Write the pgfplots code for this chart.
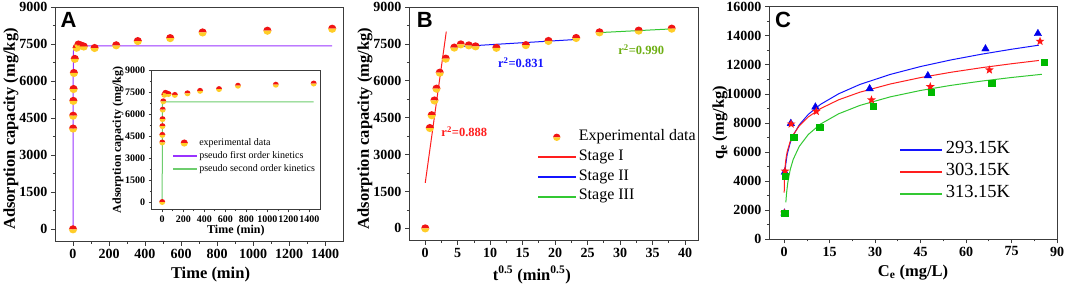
\documentclass[border=0pt]{standalone}
\usepackage{fontspec}
\setmainfont{Liberation Serif}
\newfontfamily\arialfont{Liberation Sans}
\usepackage{pgfplots}
\pgfplotsset{compat=1.18}
\definecolor{pviolet}{RGB}{153,51,255}
\definecolor{pgreen}{RGB}{110,205,110}
\definecolor{sgreen}{RGB}{50,200,50}
\definecolor{lred}{RGB}{255,30,30}
\definecolor{lblue}{RGB}{20,20,255}
\definecolor{olivegreen}{RGB}{110,175,20}
\definecolor{ballred}{RGB}{240,20,20}
\definecolor{ballyel}{RGB}{255,205,40}
\definecolor{frame}{RGB}{60,60,60}
\definecolor{mblue}{RGB}{0,0,235}
\definecolor{mred}{RGB}{255,20,20}
\definecolor{mgreen}{RGB}{0,185,0}

\pgfdeclareplotmark{halfball}{%
 \pgfpathmoveto{\pgfqpoint{\pgfplotmarksize}{0pt}}%
 \pgfpatharc{0}{180}{\pgfplotmarksize}%
 \pgfpathclose
 \pgfsetfillcolor{ballred}\pgfusepath{fill}%
 \pgfpathmoveto{\pgfqpoint{-\pgfplotmarksize}{0pt}}%
 \pgfpatharc{180}{360}{\pgfplotmarksize}%
 \pgfpathclose
 \pgfsetfillcolor{ballyel}\pgfusepath{fill}%
}
\pgfdeclareplotmark{fstar}{%
 \pgfpathmoveto{\pgfpointpolar{90}{\pgfplotmarksize}}%
 \pgfpathlineto{\pgfpointpolar{126}{0.42\pgfplotmarksize}}%
 \pgfpathlineto{\pgfpointpolar{162}{\pgfplotmarksize}}%
 \pgfpathlineto{\pgfpointpolar{198}{0.42\pgfplotmarksize}}%
 \pgfpathlineto{\pgfpointpolar{234}{\pgfplotmarksize}}%
 \pgfpathlineto{\pgfpointpolar{270}{0.42\pgfplotmarksize}}%
 \pgfpathlineto{\pgfpointpolar{306}{\pgfplotmarksize}}%
 \pgfpathlineto{\pgfpointpolar{342}{0.42\pgfplotmarksize}}%
 \pgfpathlineto{\pgfpointpolar{18}{\pgfplotmarksize}}%
 \pgfpathlineto{\pgfpointpolar{54}{0.42\pgfplotmarksize}}%
 \pgfpathclose
 \pgfusepathqfill
}

\pgfplotsset{
 myaxis/.style={
  scale only axis,
  axis line style={line width=0.9pt, frame},
  tick style={line width=0.8pt, frame},
  tick align=outside, tick pos=left,
  major tick length=4pt, minor tick length=2.2pt,
  minor x tick num=1, minor y tick num=1,
  scaled ticks=false,
  ticklabel style={font=\bfseries\fontsize{14}{14}\selectfont},
  /pgf/number format/assume math mode=true,
  /pgf/number format/1000 sep={},
  label style={font=\bfseries\fontsize{16.5}{16.5}\selectfont},
  axis background/.style={fill=white},
 },
 legline/.style n args={3}{legend image code/.code={\fill[#1] (0pt,-#3) rectangle (#2,#3);}},
}

\pgfplotstableread{
t q
0 0
0.5 4080
1 4600
2 5200
3 5680
5 6330
10 6900
20 7350
30 7480
45 7440
60 7400
120 7340
240 7450
360 7620
540 7740
720 7970
1080 8040
1440 8120
}\kinA

\pgfplotstableread{
s q
0 0
0.707 4080
1 4600
1.414 5200
1.732 5680
2.236 6330
3.162 6900
4.472 7350
5.477 7480
6.708 7440
7.746 7400
10.954 7340
15.492 7450
18.974 7620
23.238 7740
26.833 7970
32.863 8040
37.947 8120
}\kinB

\begin{document}
\begin{tikzpicture}
\useasboundingbox (0,0) rectangle (1065pt,286pt);

% ---------------- Panel A ----------------
\begin{axis}[myaxis, at={(55pt,44.3pt)}, anchor=south west,
 width=288pt, height=234.7pt,
 xmin=-100, xmax=1500, ymin=-500, ymax=9000,
 xtick={0,200,...,1400}, ytick={0,1500,...,9000},
 xlabel={Time (min)}, ylabel={Adsorption capacity (mg/kg)},
 xlabel style={at={(axis description cs:0.54,-0.142)}, anchor=center},
 ylabel style={at={(axis description cs:-0.153,0.48)}, anchor=center},
]
\addplot[pviolet, line width=1pt] coordinates {(0,0)(0.5,3700)(1,5700)(2,7000)(3,7300)(5,7420)(10,7430)(1440,7430)};
\addplot[only marks, mark=halfball, mark size=4.1pt] table[x=t,y=q] {\kinA};
\node[font=\arialfont\bfseries\fontsize{22}{22}\selectfont] at (axis description cs:0.047,0.945) {A};
\end{axis}

% inset
\begin{axis}[myaxis, at={(151.7pt,76.7pt)}, anchor=south west,
 width=168.3pt, height=138.6pt,
 xmin=-100, xmax=1500, ymin=-500, ymax=9000,
 xtick={0,200,...,1400}, ytick={0,1500,...,9000},
 major tick length=3pt, minor tick length=1.8pt,
 ticklabel style={font=\bfseries\fontsize{10}{10}\selectfont},
 label style={font=\bfseries\fontsize{12}{12}\selectfont},
 xlabel={Time (min)}, ylabel={Adsorption capacity (mg/kg)},
 xlabel style={at={(axis description cs:0.5,-0.152)}, anchor=center},
 ylabel style={at={(axis description cs:-0.2,0.5)}, anchor=center},
 legend style={at={(axis description cs:0.105,0.53)}, anchor=north west, draw=none, fill=none,
   font=\fontsize{10}{10}\selectfont, nodes={inner sep=0pt, text height=7.5pt, text depth=2.5pt},
   row sep=2.8pt, /tikz/every odd column/.append style={column sep=3.3pt}},
 legend cell align=left,
]
\addplot[pgreen, line width=1pt, forget plot] coordinates {(0,0)(0.5,3500)(1,5400)(2,6500)(3,6800)(5,6870)(10,6870)(1440,6870)};
\addplot[only marks, mark=halfball, mark size=3pt, forget plot] table[x=t,y=q] {\kinA};
\addlegendimage{legend image code/.code={\draw plot[only marks, mark=halfball, mark size=3.6pt] coordinates {(11.5pt,0pt)}; \path (0pt,0pt) (23pt,0pt);}}
\addlegendentry{experimental data}
\addlegendimage{legline={pviolet}{23pt}{0.55pt}}
\addlegendentry{pseudo first order kinetics}
\addlegendimage{legline={pgreen}{23pt}{0.55pt}}
\addlegendentry{pseudo second order kinetics}
\end{axis}

% ---------------- Panel B ----------------
\begin{axis}[myaxis, at={(409pt,45.3pt)}, anchor=south west,
 width=289pt, height=233.7pt,
 xmin=-2.5, xmax=42, ymin=-500, ymax=9000,
 xtick={0,5,...,40}, ytick={0,1500,...,9000},
 xlabel={t\textsuperscript{0.5} (min\textsuperscript{0.5})}, ylabel={Adsorption capacity (mg/kg)},
 xlabel style={at={(axis description cs:0.425,-0.147)}, anchor=center},
 ylabel style={at={(axis description cs:-0.152,0.48)}, anchor=center},
 legend style={at={(axis description cs:0.436,0.484)}, anchor=north west, draw=none, fill=none,
   font=\fontsize{16}{16}\selectfont, nodes={inner sep=0pt, text height=11pt, text depth=4pt},
   row sep=4.7pt, /tikz/every odd column/.append style={column sep=3.5pt}},
 legend cell align=left,
]
\addplot[lred, line width=1pt, forget plot] coordinates {(0,1850)(3.24,8000)};
\addplot[lblue, line width=1pt, forget plot] coordinates {(4.47,7380)(23.24,7680)};
\addplot[sgreen, line width=1pt, forget plot] coordinates {(26.83,7960)(37.95,8110)};
\addplot[only marks, mark=halfball, mark size=4.1pt, forget plot] table[x=s,y=q] {\kinB};
\addlegendimage{legend image code/.code={\draw plot[only marks, mark=halfball, mark size=3.7pt] coordinates {(18.35pt,0pt)}; \path (0pt,0pt) (36.7pt,0pt);}}
\addlegendentry{Experimental data}
\addlegendimage{legline={lred}{36.7pt}{0.55pt}}
\addlegendentry{Stage I}
\addlegendimage{legline={lblue}{36.7pt}{0.55pt}}
\addlegendentry{Stage II}
\addlegendimage{legline={sgreen}{36.7pt}{0.55pt}}
\addlegendentry{Stage III}
\node[font=\bfseries\fontsize{12.5}{12.5}\selectfont, text=lred, anchor=west, inner sep=0pt] at (axis cs:2.47,3944) {r\textsuperscript{2}=0.888};
\node[font=\bfseries\fontsize{12.5}{12.5}\selectfont, text=lblue, anchor=west, inner sep=0pt] at (axis cs:11.2,6741) {r\textsuperscript{2}=0.831};
\node[font=\bfseries\fontsize{12.5}{12.5}\selectfont, text=olivegreen, anchor=west, inner sep=0pt] at (axis cs:29.7,7256) {r\textsuperscript{2}=0.990};
\node[font=\arialfont\bfseries\fontsize{22}{22}\selectfont] at (axis description cs:0.055,0.945) {B};
\end{axis}

% ---------------- Panel C ----------------
\begin{axis}[myaxis, at={(769pt,46.7pt)}, anchor=south west,
 width=288pt, height=232.6pt,
 xmin=-5, xmax=90, ymin=0, ymax=16000,
 xtick={0,15,...,90}, ytick={0,2000,...,16000},
 xlabel={C\textsubscript{e} (mg/L)}, ylabel={q\textsubscript{e} (mg/kg)},
 xlabel style={at={(axis description cs:0.5,-0.141)}, anchor=center},
 ylabel style={at={(axis description cs:-0.17,0.5)}, anchor=center},
 legend style={at={(axis description cs:0.443,0.434)}, anchor=north west, draw=none, fill=none,
   font=\fontsize{18.5}{18.5}\selectfont, nodes={inner sep=0pt, text height=13pt, text depth=4.5pt},
   row sep=4.5pt, /tikz/every odd column/.append style={column sep=4pt}},
 legend cell align=left,
]
\addplot[lblue, line width=1pt, forget plot] coordinates {(0.28,4600)(0.5,5119)(1,5831)(2,6638)(3,7160)(5,7878)(8,8601)(12,9283)(18,10012)(25,10653)(35,11341)(45,11884)(55,12338)(65,12729)(75,13073)(84,13353)};
\addplot[lred, line width=1pt, forget plot] coordinates {(0.02,3213)(0.05,3720)(0.1,4160)(0.2,4653)(0.4,5203)(0.7,5692)(1,6027)(2,6738)(3,7193)(5,7810)(8,8423)(12,8992)(18,9598)(25,10120)(35,10683)(45,11125)(55,11489)(65,11801)(75,12076)(84,12300)};
\addplot[sgreen, line width=1pt, forget plot] coordinates {(0.55,2539)(0.8,3194)(1.2,3903)(2,4795)(3,5505)(5,6397)(8,7218)(12,7928)(18,8636)(25,9211)(35,9798)(45,10238)(55,10588)(65,10880)(75,11130)(85,11350)};
\addplot[only marks, mark=triangle*, mark size=4.3pt, color=mblue, forget plot] coordinates {(0.1,1800)(0.2,4620)(2.2,7970)(10.3,9100)(28.2,10360)(47.4,11250)(66.4,13100)(83.7,14150)};
\addplot[only marks, mark=fstar, mark size=4.6pt, color=mred, forget plot] coordinates {(0.1,1800)(0.3,4690)(2.3,7930)(10.6,8800)(28.8,9590)(48.2,10500)(67.7,11650)(84.4,13620)};
\addplot[only marks, mark=square*, mark size=3.2pt, color=mgreen, forget plot] coordinates {(0.15,1780)(0.4,4360)(3.1,7030)(11.7,7700)(29.4,9170)(48.5,10100)(68.4,10730)(85.7,12200)};
\addlegendimage{legline={lblue}{41.6pt}{0.55pt}}
\addlegendentry{293.15K}
\addlegendimage{legline={lred}{41.6pt}{0.55pt}}
\addlegendentry{303.15K}
\addlegendimage{legline={sgreen}{41.6pt}{0.55pt}}
\addlegendentry{313.15K}
\node[font=\arialfont\bfseries\fontsize{22}{22}\selectfont] at (axis description cs:0.049,0.945) {C};
\end{axis}
\end{tikzpicture}
\end{document}
